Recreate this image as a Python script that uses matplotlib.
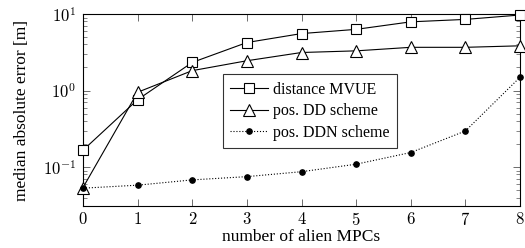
import matplotlib
matplotlib.use("Agg")
import matplotlib.pyplot as plt
from matplotlib.ticker import LogLocator, NullFormatter

plt.rcParams['font.family'] = ['cmr10', 'DejaVu Serif']
plt.rcParams['mathtext.fontset'] = 'cm'
plt.rcParams['axes.formatter.use_mathtext'] = True

x = [0, 1, 2, 3, 4, 5, 6, 7, 8]
mvue = [0.166, 0.76, 2.33, 4.24, 5.55, 6.3, 7.9, 8.5, 9.7]
dd = [0.054, 0.95, 1.82, 2.45, 3.14, 3.3, 3.67, 3.67, 3.84]
ddn = [0.053, 0.058, 0.068, 0.075, 0.087, 0.109, 0.155, 0.296, 1.49]
labels = ["distance MVUE", "pos. DD scheme", "pos. DDN scheme"]

TEXT = ['Liberation Serif', 'DejaVu Serif']

fig = plt.figure(figsize=(5.25, 2.48), dpi=100)
ax = fig.add_axes([83/525, 1-206/248, (520-83)/525, (206-14)/248])

ax.plot(x, mvue, '-', color='black', lw=0.8, marker='s', ms=7, mfc='white',
        mec='black', mew=0.8, label=labels[0], clip_on=False, zorder=3)
ax.plot(x, dd, '-', color='black', lw=0.8, marker='^', ms=8, mfc='white',
        mec='black', mew=0.8, label=labels[1], clip_on=False, zorder=3)
ax.plot(x, ddn, ':', color='black', lw=0.8, marker='o', ms=3.8, mfc='black',
        mec='black', label=labels[2], clip_on=False, zorder=3)

ax.set_yscale('log')
ax.set_ylim(0.031, 10)
ax.set_xlim(0, 8)
ax.set_xticks(x)
ax.yaxis.set_major_locator(LogLocator(base=10, numticks=10))
ax.yaxis.set_minor_locator(LogLocator(base=10, subs=range(2, 10), numticks=10))
ax.yaxis.set_minor_formatter(NullFormatter())
ax.tick_params(which='both', direction='in', top=True, right=True,
               color='#555555', labelsize=12, pad=5)
ax.tick_params(axis='x', which='both', pad=3.5)
ax.tick_params(which='major', length=5, width=0.6)
ax.tick_params(which='minor', length=3, width=0.5)
for s in ax.spines.values():
    s.set_linewidth(0.8)

ax.set_xlabel("number of alien MPCs", fontsize=12.5, family=TEXT, labelpad=0.5)
ax.set_ylabel("median absolute error [m]", fontsize=12.5, family=TEXT, labelpad=9)

leg = ax.legend(loc='upper left', bbox_to_anchor=(0.32, 0.685),
                prop={'family': TEXT, 'size': 11.5},
                frameon=True, fancybox=False, edgecolor='black',
                handlelength=2.4, borderpad=0.45, labelspacing=0.35,
                handletextpad=0.3, borderaxespad=0)
leg.get_frame().set_linewidth(0.8)

fig.savefig("out.png", dpi=100)
